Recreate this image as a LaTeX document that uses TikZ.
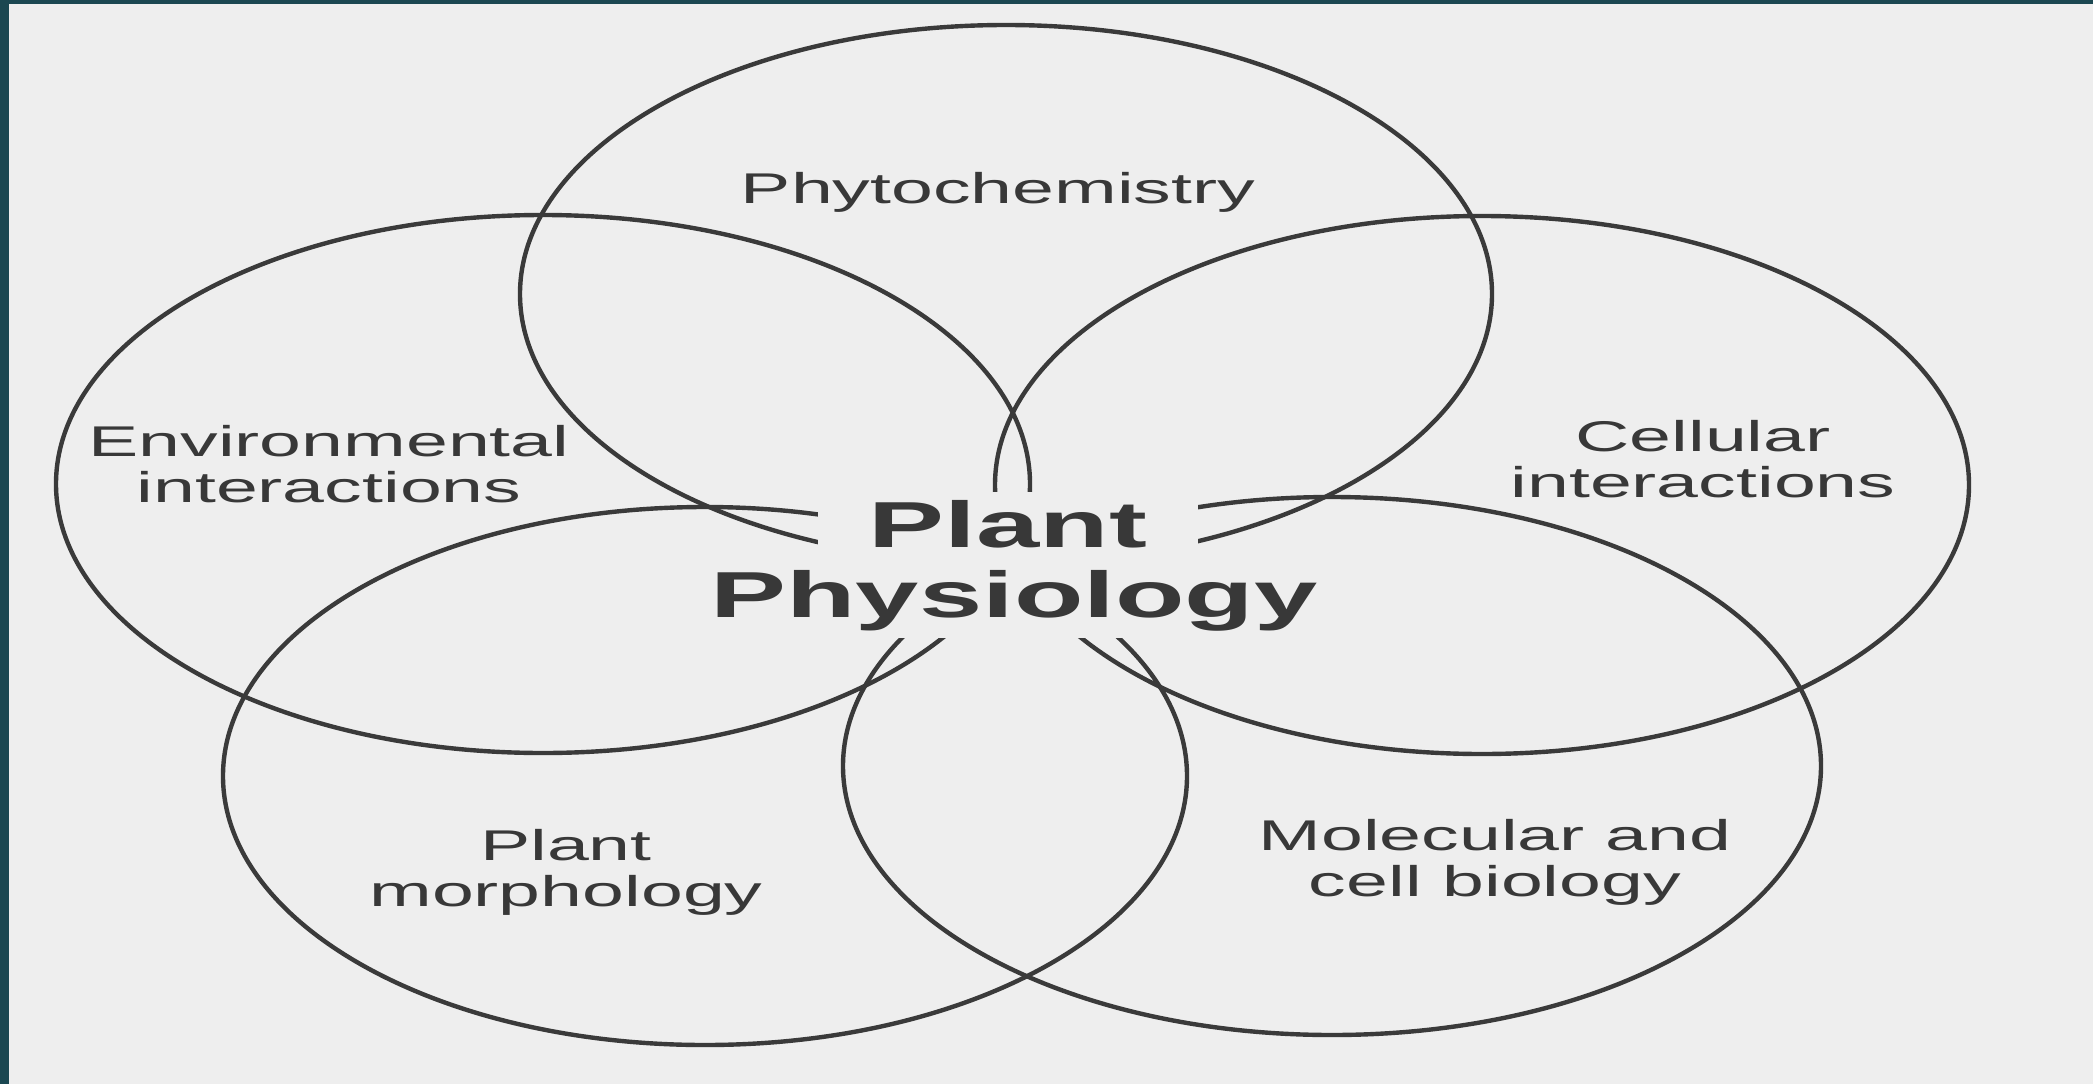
\documentclass[tikz,border=0pt]{standalone}
\usepackage{fontspec}
\setmainfont{Liberation Sans}
\usepackage{graphicx}
\usetikzlibrary{shapes.geometric}
\definecolor{bgc}{HTML}{EEEEEE}
\definecolor{edgec}{HTML}{1B4751}
\definecolor{ink}{HTML}{383838}
\definecolor{linec}{HTML}{3A3A3A}
\newcommand{\sxx}[1]{\scalebox{1.75}[1]{#1}}
\newcommand{\twoline}[2]{\sxx{\begin{tabular}[t]{@{}c@{}}#1\\#2\end{tabular}}}
\tikzset{
  ring/.style={ellipse, draw=linec, line width=4.4pt, inner sep=0pt, outer sep=0pt, minimum height=538pt},
  lbl/.style={anchor=base, text=ink, inner sep=0pt, font=\fontsize{43}{46}\selectfont},
  core/.style={anchor=base, text=ink, fill=bgc, font=\fontsize{65}{70}\bfseries\selectfont}
}
\begin{document}
\begin{tikzpicture}[x=1pt,y=-1pt]
\useasboundingbox (0,0) rectangle (2093,1084);
\fill[bgc] (0,0) rectangle (2093,1084);
\fill[edgec] (0,0) rectangle (9,1084);
\fill[edgec] (0,0) rectangle (2093,4);
% circles
\node[ring, minimum width=972pt] (topE) at (1006,294) {};
\node[ring, minimum width=974pt] (envE) at (543,484) {};
\node[ring, minimum width=974pt] (celE) at (1482,485) {};
\node[ring, minimum width=964pt] (morE) at (705,776) {};
\node[ring, minimum width=978pt] (molE) at (1332,766) {};
% centre title
\node[core, inner xsep=51pt, inner ysep=8pt, text depth=12pt] (plant) at (1008,547) {\sxx{Plant}};
\node[core, inner xsep=8pt, inner ysep=7pt] (physio) at (1014,617) {\sxx{Physiology}};
% labels
\node[lbl] (phy) at (998,203) {\sxx{Phytochemistry}};
\node[lbl] (env) at (329,456) {\twoline{Environmental}{interactions}};
\node[lbl] (cel) at (1703,451) {\twoline{Cellular}{interactions}};
\node[lbl] (mor) at (566,860) {\twoline{Plant}{morphology}};
\node[lbl] (mol) at (1495,850) {\twoline{Molecular and}{cell biology}};
\end{tikzpicture}
\end{document}
